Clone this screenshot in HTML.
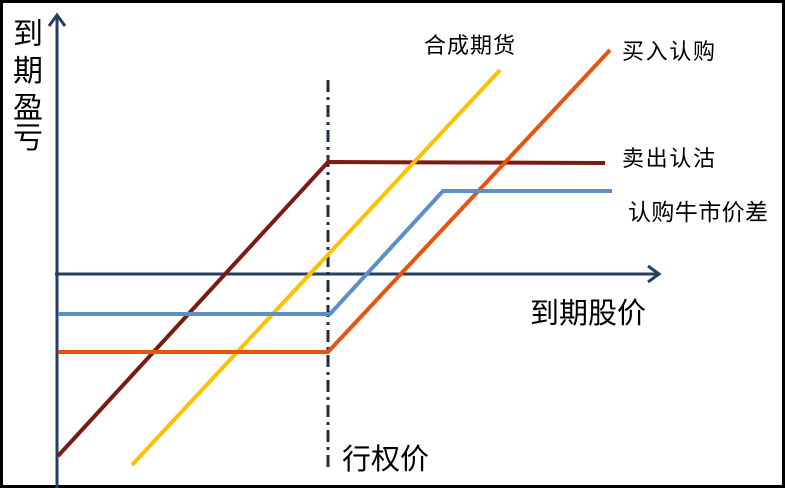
<!DOCTYPE html>
<html><head><meta charset="utf-8"><style>
html,body{margin:0;padding:0;background:#fff}
svg{display:block}
text{font-family:"Liberation Sans","Noto Sans CJK SC",sans-serif;fill:#000}
</style></head><body>
<svg width="785" height="488" viewBox="0 0 785 488" xmlns="http://www.w3.org/2000/svg">
<rect x="1.5" y="1.5" width="782" height="485" fill="#fff" stroke="#000" stroke-width="3"/>
<line x1="57" y1="488" x2="57" y2="16" stroke="#243f60" stroke-width="3"/>
<polyline points="49,26 57,15 65,26" fill="none" stroke="#243f60" stroke-width="3"/>
<line x1="55" y1="274" x2="660" y2="274" stroke="#243f60" stroke-width="3"/>
<polyline points="648,266 659,274 648,282" fill="none" stroke="#243f60" stroke-width="3"/>
<line x1="328" y1="80" x2="328" y2="470" stroke="#1f2f40" stroke-width="3" stroke-dasharray="12,5,3,5"/>
<polyline points="58,456 328,162 605,163" fill="none" stroke="#7b1a10" stroke-width="4"/>
<line x1="132" y1="465" x2="500" y2="70" stroke="#ffc000" stroke-width="4"/>
<polyline points="58,352 328,352 610,50" fill="none" stroke="#e8540e" stroke-width="4"/>
<polyline points="58,314 330,314 443,191 612,191" fill="none" stroke="#5b8fc8" stroke-width="4"/>
<text x="13" y="44" font-size="30">到</text>
<text x="13" y="81" font-size="30">期</text>
<text x="13" y="118" font-size="30">盈</text>
<text x="13" y="148" font-size="30">亏</text>
<text x="530" y="323" font-size="29">到期股价</text>
<text x="342" y="469" font-size="29">行权价</text>
<text x="424" y="53" font-size="22" textLength="91">合成期货</text>
<text x="622" y="59" font-size="22" textLength="93">买入认购</text>
<text x="622" y="166" font-size="22" textLength="93">卖出认沽</text>
<text x="628" y="220" font-size="23" textLength="140">认购牛市价差</text>
</svg>
</body></html>
